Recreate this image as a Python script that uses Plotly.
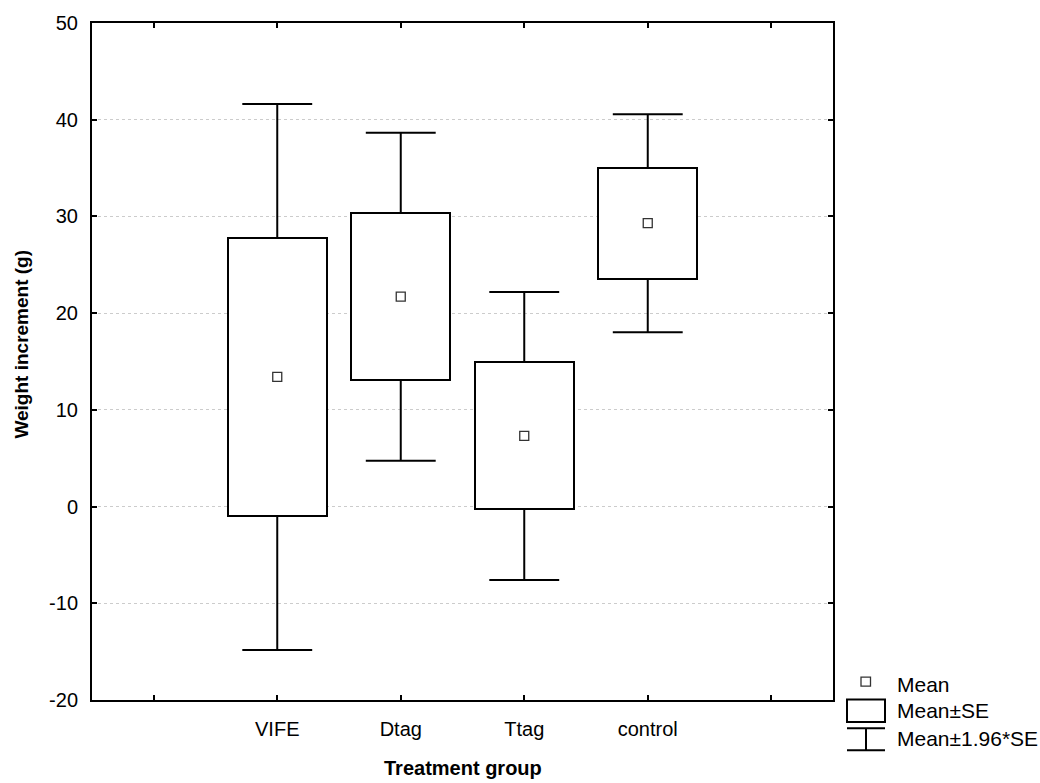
import plotly.graph_objects as go

# Treatment groups with mean weight increment and standard error
groups = ["VIFE", "Dtag", "Ttag", "control"]
means = [13.4, 21.7, 7.3, 29.3]
se = [14.4, 8.65, 7.6, 5.75]
z = 1.96

x_tick_positions = [0, 1, 2, 3, 4, 5]
x_tick_labels = [""] + groups + [""]
positions = [1, 2, 3, 4]
y_tick_values = [-20, -10, 0, 10, 20, 30, 40, 50]
y_tick_labels = ["-20", "-10", "0", "10", "20", "30", "40", "50"]

FONT = "Liberation Sans, Arial, sans-serif"
TICK_SIZE = 20
BOX_W = 0.8
CAP_HALF = 0.283

fig = go.Figure()

# Mean ± SE boxes
fig.add_trace(go.Bar(
    x=positions,
    y=[2 * s for s in se],
    base=[m - s for m, s in zip(means, se)],
    width=BOX_W,
    marker=dict(color="white", line=dict(color="black", width=2)),
    showlegend=False,
    hoverinfo="skip",
))

# Mean ± 1.96*SE whiskers with caps
wx, wy = [], []
for p, m, s in zip(positions, means, se):
    hi, lo = m + z * s, m - z * s
    wx += [p, p, None, p - CAP_HALF, p + CAP_HALF, None,
           p, p, None, p - CAP_HALF, p + CAP_HALF, None]
    wy += [m + s, hi, None, hi, hi, None,
           m - s, lo, None, lo, lo, None]
fig.add_trace(go.Scatter(
    x=wx, y=wy, mode="lines",
    line=dict(color="black", width=2),
    showlegend=False, hoverinfo="skip",
))

# Mean markers
fig.add_trace(go.Scatter(
    x=positions, y=means, mode="markers",
    marker=dict(symbol="square", size=9, color="white",
                line=dict(color="#333333", width=1.3)),
    showlegend=False,
))

# Plot area in pixels: x 92..833, y 20..700
L, R, T, B = 92, 833, 20, 700
W, H = R - L, B - T


def px(x):
    return (x - L) / W


def py(y):
    return (B - y) / H


shapes = []
annotations = []

# Legend: mean symbol
shapes.append(dict(type="rect", xref="paper", yref="paper",
                   x0=px(861), x1=px(870.5), y0=py(686), y1=py(677),
                   line=dict(color="#333333", width=1.3), fillcolor="white"))
# Legend: box symbol
shapes.append(dict(type="rect", xref="paper", yref="paper",
                   x0=px(847), x1=px(885), y0=py(722), y1=py(699.5),
                   line=dict(color="black", width=2), fillcolor="white"))
# Legend: whisker symbol
for yy in (728.5, 750.5):
    shapes.append(dict(type="line", xref="paper", yref="paper",
                       x0=px(847), x1=px(885), y0=py(yy), y1=py(yy),
                       line=dict(color="black", width=2)))
shapes.append(dict(type="line", xref="paper", yref="paper",
                   x0=px(866), x1=px(866), y0=py(728.5), y1=py(750.5),
                   line=dict(color="black", width=2)))

for label, yy in (("Mean", 684), ("Mean±SE", 711), ("Mean±1.96*SE", 739)):
    annotations.append(dict(text=label, xref="paper", yref="paper",
                            x=px(895), y=py(yy), xanchor="left", yanchor="middle",
                            showarrow=False,
                            font=dict(family=FONT, size=21, color="black")))

# Axis titles
annotations.append(dict(text="<b>Treatment group</b>", xref="paper", yref="paper",
                        x=px(462.5), y=py(768), xanchor="center", yanchor="middle",
                        showarrow=False,
                        font=dict(family=FONT, size=20, color="black")))
annotations.append(dict(text="<b>Weight increment (g)</b>", xref="paper", yref="paper",
                        x=px(22), y=py(343), xanchor="center", yanchor="middle",
                        textangle=-90, showarrow=False,
                        font=dict(family=FONT, size=19, color="black")))

fig.update_layout(
    width=1040, height=783,
    margin=dict(l=L, r=1040 - R, t=T, b=783 - B),
    paper_bgcolor="white", plot_bgcolor="white",
    font=dict(family=FONT, size=TICK_SIZE, color="black"),
    shapes=shapes, annotations=annotations,
    bargap=0,
)

fig.update_xaxes(
    range=[-0.5, 5.5],
    tickmode="array", tickvals=x_tick_positions, ticktext=x_tick_labels,
    showgrid=False, zeroline=False,
    showline=True, linecolor="black", linewidth=2, mirror="ticks",
    ticks="inside", ticklen=5, tickwidth=2, tickcolor="black",
    ticklabelstandoff=10,
    tickfont=dict(family=FONT, size=TICK_SIZE, color="black"),
)
fig.update_yaxes(
    range=[-20, 50],
    tickmode="array", tickvals=y_tick_values, ticktext=y_tick_labels,
    showgrid=True, gridcolor="#cccccc", gridwidth=1, griddash="dot",
    zeroline=False,
    showline=True, linecolor="black", linewidth=2, mirror="ticks",
    ticks="inside", ticklen=5, tickwidth=2, tickcolor="black",
    ticklabelstandoff=8,
    tickfont=dict(family=FONT, size=TICK_SIZE, color="black"),
)

fig.write_html("out.html")
